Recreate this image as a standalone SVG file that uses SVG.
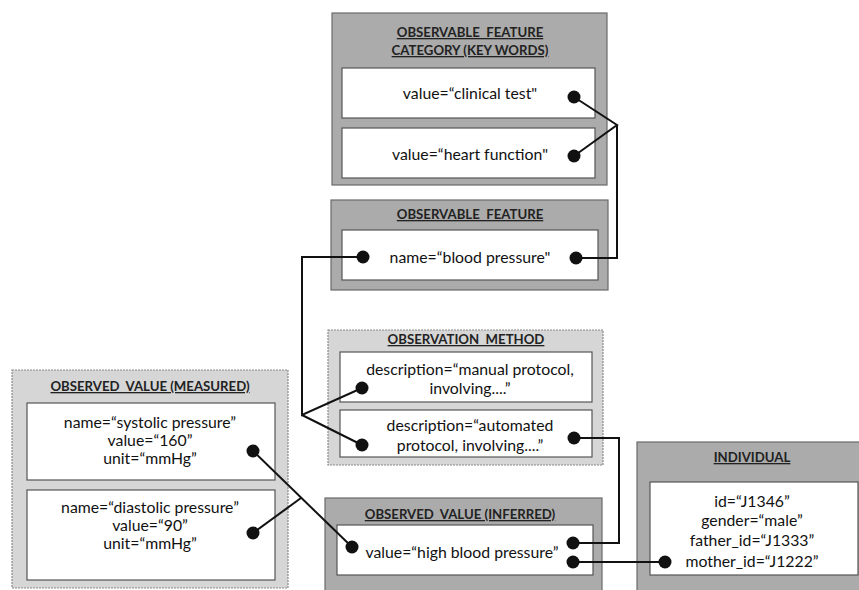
<svg xmlns="http://www.w3.org/2000/svg" width="859" height="590" viewBox="0 0 859 590">
<style>
.dark{fill:#ababab;stroke:#6a6a6a;stroke-width:1.2}
.light{fill:#d6d6d6;stroke:#8a8a8a;stroke-width:1.2;stroke-dasharray:2 1}
.inner{fill:#fff;stroke:#555;stroke-width:1.2}
.t{font-family:Lato,"Open Sans",sans-serif;font-size:15.8px;fill:#111;text-anchor:middle}
.h{font-family:Lato,"Open Sans",sans-serif;font-size:13.2px;font-weight:bold;fill:#222;text-anchor:middle;text-decoration:underline;white-space:pre}
.c{fill:none;stroke:#111;stroke-width:2}
.d{fill:#111}
</style>
<rect width="859" height="590" fill="#fff"/>
<g id="category">
<rect class="dark" x="332" y="13" width="275" height="172"/>
<text class="h" x="470" y="37">OBSERVABLE  FEATURE</text>
<text class="h" x="470" y="55">CATEGORY (KEY WORDS)</text>
<rect class="inner" x="342" y="68" width="253" height="50"/>
<text class="t" x="470" y="99">value=“clinical test"</text>
<rect class="inner" x="342" y="128" width="253" height="50"/>
<text class="t" x="470" y="160">value=“heart function"</text>
</g>
<g id="feature">
<rect class="dark" x="331" y="200" width="277" height="90"/>
<text class="h" x="470" y="219">OBSERVABLE  FEATURE</text>
<rect class="inner" x="342" y="230" width="256" height="50"/>
<text class="t" x="470" y="263">name=“blood pressure"</text>
</g>
<g id="method">
<rect class="light" x="328" y="330" width="275" height="135"/>
<text class="h" x="466" y="344">OBSERVATION  METHOD</text>
<rect class="inner" x="340" y="352" width="252" height="50"/>
<text class="t" x="470" y="375">description=“manual protocol,</text>
<text class="t" x="470" y="394">involving....”</text>
<rect class="inner" x="340" y="410" width="252" height="47"/>
<text class="t" x="470" y="431">description=“automated</text>
<text class="t" x="470" y="451">protocol, involving....”</text>
</g>
<g id="measured">
<rect class="light" x="12" y="370" width="276" height="218"/>
<text class="h" x="150" y="391">OBSERVED  VALUE (MEASURED)</text>
<rect class="inner" x="27" y="403" width="248" height="77"/>
<text class="t" x="150" y="428">name=“systolic pressure”</text>
<text class="t" x="150" y="446">value=“160”</text>
<text class="t" x="150" y="464">unit=“mmHg”</text>
<rect class="inner" x="27" y="490" width="248" height="90"/>
<text class="t" x="150" y="513">name=“diastolic pressure”</text>
<text class="t" x="150" y="531">value=“90”</text>
<text class="t" x="150" y="549">unit=“mmHg”</text>
</g>
<g id="inferred">
<rect class="dark" x="325" y="498" width="277" height="100"/>
<text class="h" x="460" y="519">OBSERVED  VALUE (INFERRED)</text>
<rect class="inner" x="337" y="525" width="256" height="50"/>
<text class="t" x="462" y="558">value=“high blood pressure”</text>
</g>
<g id="individual">
<rect class="dark" x="637" y="442" width="230" height="160"/>
<text class="h" x="752" y="462">INDIVIDUAL</text>
<rect class="inner" x="650" y="482" width="208" height="93"/>
<text class="t" x="752" y="507">id=“J1346”</text>
<text class="t" x="752" y="526">gender=“male”</text>
<text class="t" x="752" y="546">father_id=“J1333”</text>
<text class="t" x="752" y="567">mother_id=“J1222”</text>
</g>
<g id="connectors">
<polyline class="c" points="574,97 617,125 574,156"/>
<polyline class="c" points="617,125 617,258 576,258"/>
<polyline class="c" points="363,257 302,257 302,415 362,388"/>
<polyline class="c" points="302,415 362,445"/>
<polyline class="c" points="574,438 619,438 619,543 573,543"/>
<polyline class="c" points="573,562 665,562"/>
<polyline class="c" points="253,451 352,547"/>
<polyline class="c" points="253,533 301,498"/>
<circle class="d" cx="574" cy="97" r="6.5"/>
<circle class="d" cx="574" cy="156" r="6.5"/>
<circle class="d" cx="576" cy="258" r="6.5"/>
<circle class="d" cx="363" cy="257" r="6.5"/>
<circle class="d" cx="362" cy="388" r="6.5"/>
<circle class="d" cx="362" cy="445" r="6.5"/>
<circle class="d" cx="574" cy="438" r="6.5"/>
<circle class="d" cx="253" cy="451" r="6.5"/>
<circle class="d" cx="253" cy="533" r="6.5"/>
<circle class="d" cx="352" cy="547" r="6.5"/>
<circle class="d" cx="573" cy="543" r="6.5"/>
<circle class="d" cx="573" cy="562" r="6.5"/>
<circle class="d" cx="665" cy="562" r="6.5"/>
</g>
</svg>
